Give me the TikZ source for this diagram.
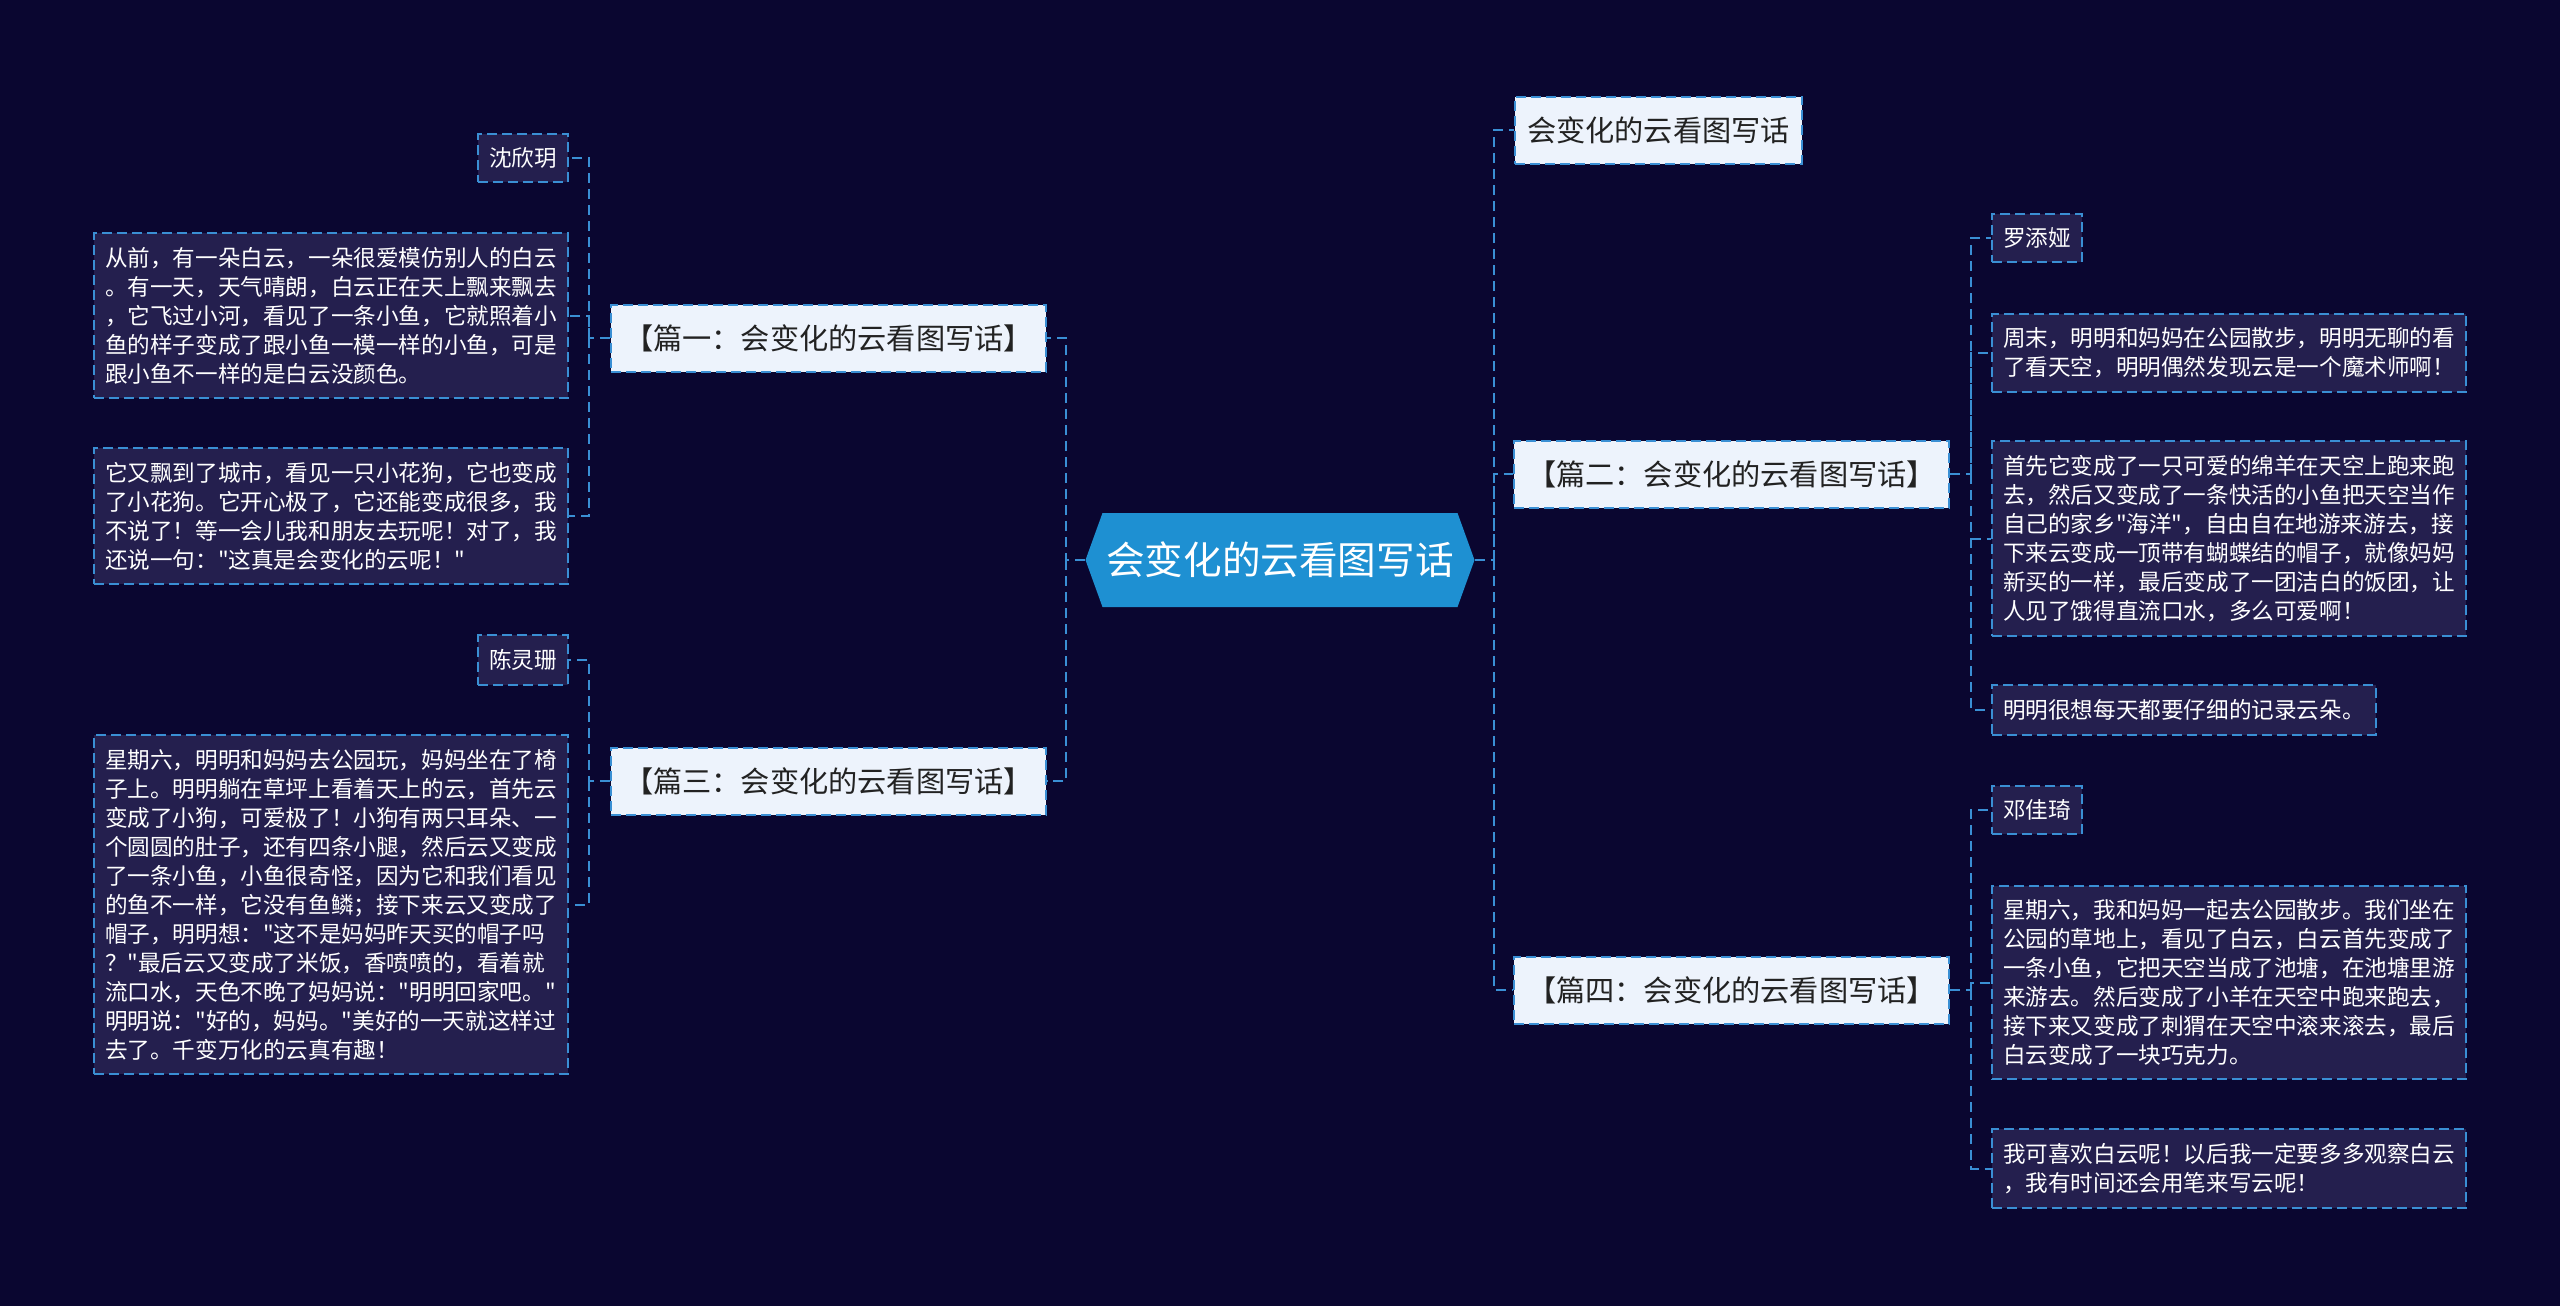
\documentclass[tikz,border=0pt]{standalone}
\usepackage{fontspec}
\newfontfamily\cjk{Noto Sans CJK SC}
\usetikzlibrary{calc,positioning}
\definecolor{bgnavy}{HTML}{0A0630}
\definecolor{linkblue}{HTML}{3A8FD4}
\definecolor{rootblue}{HTML}{1E90D2}
\definecolor{boxpale}{HTML}{EDF3FC}
\definecolor{leafpurple}{HTML}{241F4E}
\definecolor{inkdark}{HTML}{222222}
\tikzset{
  root/.style={ % central hexagon with the title
    minimum width=194.5pt, minimum height=47pt, inner sep=0pt,
    text=white, font=\cjk\fontsize{19.3pt}{22pt}\selectfont,
    path picture = {
      \fill[rootblue]
      (path picture bounding box.west) --
      ([xshift=8.5pt]path picture bounding box.north west) --
      ([xshift=-8.5pt]path picture bounding box.north east) --
      (path picture bounding box.east) --
      ([xshift=-8.5pt]path picture bounding box.south east) --
      ([xshift=8.5pt]path picture bounding box.south west) -- cycle;
    }
  },
  topic/.style={ % pale boxes of the four essays
    draw=linkblue, line width=1pt, dash pattern=on 5pt off 2.5pt,
    fill=boxpale, text=inkdark, minimum height=33.5pt, inner xsep=6pt,
    font=\cjk\fontsize{14.6pt}{17pt}\selectfont
  },
  leaf/.style={ % dark boxes: authors and one-line notes
    draw=linkblue, line width=1pt, dash pattern=on 5pt off 2.5pt,
    fill=leafpurple, text=white, inner xsep=5.5pt, inner ysep=7pt,
    font=\cjk\fontsize{11.3pt}{14.5pt}\selectfont
  },
  para/.style={ % dark boxes with a paragraph
    leaf, text width=226pt, align=left
  },
  link/.style={
    draw=linkblue, line width=1pt, dash pattern=on 5pt off 3pt
  }
}

\begin{document}
\begin{tikzpicture}[x=0.5pt, y=-0.5pt]

  \fill[bgnavy] (0,0) rectangle (2560,1306);
  \useasboundingbox (0,0) rectangle (2560,1306);

  \node[root] (root) at (1280,560) {会变化的云看图写话};

  \node[topic] (title) at (1658.5,130) {会变化的云看图写话};
  \node[topic, minimum width=217.5pt] (p1) at (828.5,338) {【篇一：会变化的云看图写话】};
  \node[topic, minimum width=217.5pt] (p2) at (1731.5,474) {【篇二：会变化的云看图写话】};
  \node[topic, minimum width=217.5pt] (p3) at (828.5,781) {【篇三：会变化的云看图写话】};
  \node[topic, minimum width=217.5pt] (p4) at (1731.5,990) {【篇四：会变化的云看图写话】};

  % left side
  \node[leaf, anchor=east] (p1_name) at (569,158) {沈欣玥};
  \node[para, anchor=east] (p1_text1) at (569,315.5) {从前，有一朵白云，一朵很爱模仿别人的白云\\。有一天，天气晴朗，白云正在天上飘来飘去\\，它飞过小河，看见了一条小鱼，它就照着小\\鱼的样子变成了跟小鱼一模一样的小鱼，可是\\跟小鱼不一样的是白云没颜色。};
  \node[para, anchor=east] (p1_text2) at (569,516) {它又飘到了城市，看见一只小花狗，它也变成\\了小花狗。它开心极了，它还能变成很多，我\\不说了！等一会儿我和朋友去玩呢！对了，我\\还说一句："这真是会变化的云呢！"};
  \node[leaf, anchor=east] (p3_name) at (569,660) {陈灵珊};
  \node[para, anchor=east] (p3_text) at (569,904.5) {星期六，明明和妈妈去公园玩，妈妈坐在了椅\\子上。明明躺在草坪上看着天上的云，首先云\\变成了小狗，可爱极了！小狗有两只耳朵、一\\个圆圆的肚子，还有四条小腿，然后云又变成\\了一条小鱼，小鱼很奇怪，因为它和我们看见\\的鱼不一样，它没有鱼鳞；接下来云又变成了\\帽子，明明想："这不是妈妈昨天买的帽子吗\\？"最后云又变成了米饭，香喷喷的，看着就\\流口水，天色不晚了妈妈说："明明回家吧。"\\明明说："好的，妈妈。"美好的一天就这样过\\去了。千变万化的云真有趣！};

  % right side
  \node[leaf, anchor=west] (p2_name) at (1991,238) {罗添娅};
  \node[para, anchor=west] (p2_text1) at (1991,353) {周末，明明和妈妈在公园散步，明明无聊的看\\了看天空，明明偶然发现云是一个魔术师啊！};
  \node[para, anchor=west] (p2_text2) at (1991,538.5) {首先它变成了一只可爱的绵羊在天空上跑来跑\\去，然后又变成了一条快活的小鱼把天空当作\\自己的家乡"海洋"，自由自在地游来游去，接\\下来云变成一顶带有蝴蝶结的帽子，就像妈妈\\新买的一样，最后变成了一团洁白的饭团，让\\人见了饿得直流口水，多么可爱啊！};
  \node[leaf, anchor=west] (p2_text3) at (1991,710) {明明很想每天都要仔细的记录云朵。};
  \node[leaf, anchor=west] (p4_name) at (1991,810) {邓佳琦};
  \node[para, anchor=west] (p4_text1) at (1991,982.5) {星期六，我和妈妈一起去公园散步。我们坐在\\公园的草地上，看见了白云，白云首先变成了\\一条小鱼，它把天空当成了池塘，在池塘里游\\来游去。然后变成了小羊在天空中跑来跑去，\\接下来又变成了刺猬在天空中滚来滚去，最后\\白云变成了一块巧克力。};
  \node[para, anchor=west] (p4_text2) at (1991,1168.5) {我可喜欢白云呢！以后我一定要多多观察白云\\，我有时间还会用笔来写云呢！};

  % connectors
  \coordinate (lhub) at ($(root.west)+(-19,0)$);
  \coordinate (rhub) at ($(root.east)+(19,0)$);
  \draw[link] (root.west) -- (lhub) |- (p1.east);
  \draw[link] (lhub) |- (p3.east);
  \draw[link] (root.east) -- (rhub) |- (title.west);
  \draw[link] (rhub) |- (p2.west);
  \draw[link] (rhub) |- (p4.west);

  \coordinate (p1_hub) at ($(p1.west)+(-21,0)$);
  \coordinate (p3_hub) at ($(p3.west)+(-21,0)$);
  \coordinate (p2_hub) at ($(p2.east)+(21,0)$);
  \coordinate (p4_hub) at ($(p4.east)+(21,0)$);
  \draw[link] (p1.west) -- (p1_hub) |- (p1_name.east);
  \draw[link] (p1_hub) |- (p1_text1.east);
  \draw[link] (p1_hub) |- (p1_text2.east);
  \draw[link] (p3.west) -- (p3_hub) |- (p3_name.east);
  \draw[link] (p3_hub) |- (p3_text.east);
  \draw[link] (p2.east) -- (p2_hub) |- (p2_name.west);
  \draw[link] (p2_hub) |- (p2_text1.west);
  \draw[link] (p2_hub) |- (p2_text2.west);
  \draw[link] (p2_hub) |- (p2_text3.west);
  \draw[link] (p4.east) -- (p4_hub) |- (p4_name.west);
  \draw[link] (p4_hub) |- (p4_text1.west);
  \draw[link] (p4_hub) |- (p4_text2.west);

\end{tikzpicture}
\end{document}
